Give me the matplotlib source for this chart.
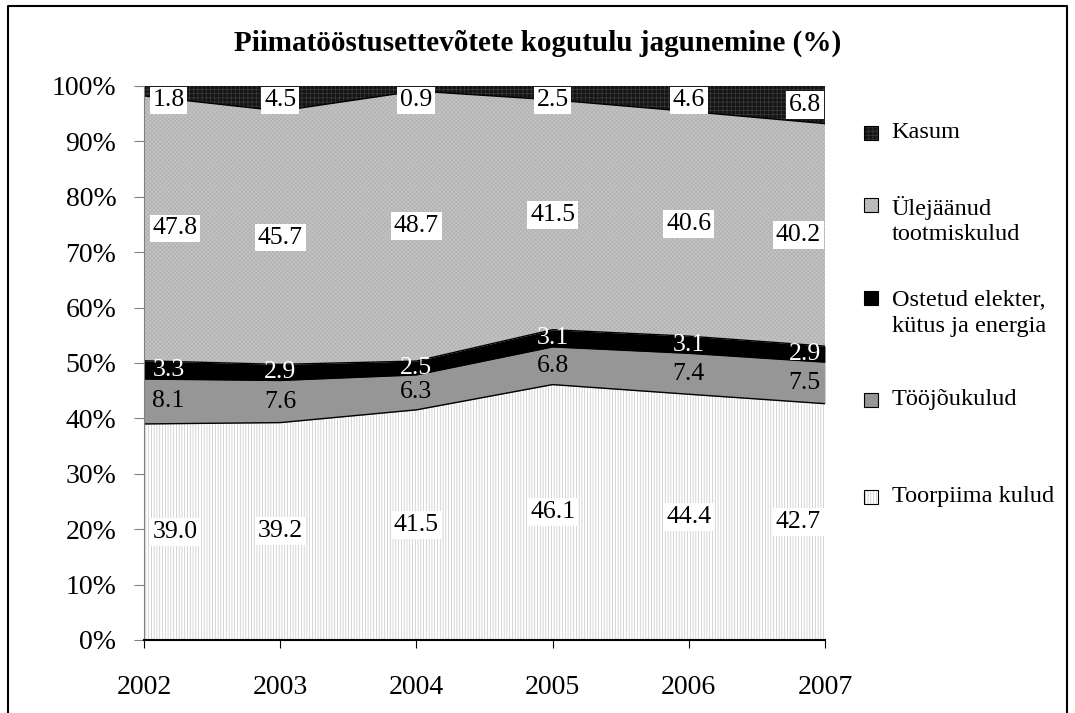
import matplotlib.pyplot as plt
import matplotlib.patches as mpatches
import numpy as np

plt.rcParams['font.family'] = ['Liberation Serif', 'DejaVu Serif']
plt.rcParams['hatch.linewidth'] = 0.5

years = [2002, 2003, 2004, 2005, 2006, 2007]
toorpiima = [39.0, 39.2, 41.5, 46.1, 44.4, 42.7]
toojou = [8.1, 7.6, 6.3, 6.8, 7.4, 7.5]
ostetud = [3.3, 2.9, 2.5, 3.1, 3.1, 2.9]
ulejaanud = [47.8, 45.7, 48.7, 41.5, 40.6, 40.2]
kasum = [1.8, 4.5, 0.9, 2.5, 4.6, 6.8]

names = ["Toorpiima kulud", "Tööjõukulud", "Ostetud elekter,\nkütus ja energia",
         "Ülejäänud\ntootmiskulud", "Kasum"]
series = [toorpiima, toojou, ostetud, ulejaanud, kasum]

# fill colour, hatch, hatch colour for each layer
styles = [
    ("white", "||||||", "#c4c4c4"),
    ("#969696", None, "#969696"),
    ("black", None, "black"),
    ("#c4c4c4", "xxxxxxxx", "#b0b0b0"),
    ("#141414", "++++", "#3c3c3c"),
]
# label text colour and whether it sits on a white box
label_style = [("black", True), ("black", False), ("white", False),
               ("black", True), ("black", True)]

data = np.array(series)
data = data / data.sum(axis=0) * 100
tops = np.cumsum(data, axis=0)
bottoms = tops - data
x = np.array(years)

fig = plt.figure(figsize=(10.75, 7.13), dpi=100)
ax = fig.add_axes([0.134, 0.1024, 0.6334, 0.777])

for i in range(len(series)):
    fc, hatch, hc = styles[i]
    ax.fill_between(x, bottoms[i], tops[i], facecolor=fc, hatch=hatch,
                    edgecolor=hc, linewidth=0)
for i in range(len(series) - 1):
    ax.plot(x, tops[i], color="black", lw=1.0)

ax.set_xlim(2002, 2007)
ax.set_ylim(0, 100)
ax.set_yticks(range(0, 101, 10))
ax.set_yticklabels([f"{v}%" for v in range(0, 101, 10)])
ax.set_xticks(years)
ax.set_xticklabels([str(y) for y in years])
ax.tick_params(axis="y", labelsize=20, length=7, direction="out", pad=13,
               color="#808080")
ax.tick_params(axis="x", labelsize=20, length=6, direction="out", pad=19)
for s in ["top", "right"]:
    ax.spines[s].set_visible(False)
ax.spines["left"].set_color("#808080")
ax.spines["bottom"].set_linewidth(1.5)

# value labels
for i, vals in enumerate(series):
    tc, boxed = label_style[i]
    for j, yr in enumerate(years):
        mid = bottoms[i][j] + data[i][j] / 2
        if i == len(series) - 1:
            mid = min(mid, 97.4)
        if j == 0:
            ha, dx = "left", 6
        elif j == len(years) - 1:
            ha, dx = "right", -3
        else:
            ha, dx = "center", 0
        bbox = dict(facecolor="white", edgecolor="none", pad=2) if boxed else None
        ax.annotate(f"{vals[j]:.1f}", (yr, mid), xytext=(dx, 0),
                    textcoords="offset points", ha=ha, va="center",
                    fontsize=18.5, color=tc, bbox=bbox)

# legend, top entry first
legend_y = [0.8135, 0.6907, 0.5603, 0.439, 0.303]
for k, i in enumerate(range(len(series) - 1, -1, -1)):
    fc, hatch, hc = styles[i]
    ly = legend_y[k]
    lines = names[i].count("\n")
    sq_y = ly + lines * 0.0217
    sq = (0.8035, sq_y - 0.0098)
    fig.add_artist(mpatches.Rectangle(sq, 0.013, 0.0196,
                                      transform=fig.transFigure, facecolor=fc,
                                      hatch=hatch, edgecolor=hc, linewidth=0))
    fig.add_artist(mpatches.Rectangle(sq, 0.013, 0.0196,
                                      transform=fig.transFigure, facecolor="none",
                                      edgecolor="black", linewidth=0.8))
    fig.text(0.8295, ly, names[i], fontsize=17.5, va="center", ha="left",
             linespacing=1.3)

fig.text(0.5, 1 - 43 / 713, "Piimatööstusettevõtete kogutulu jagunemine (%)",
         ha="center", va="center", fontsize=21, fontweight="bold")

# outer frame, open at the bottom edge
fx0, fx1, fy1 = 8 / 1075, 1067 / 1075, 1 - 6 / 713
fig.add_artist(plt.Line2D([fx0, fx0, fx1, fx1], [-0.05, fy1, fy1, -0.05],
                          transform=fig.transFigure, color="black", lw=1.5))

fig.savefig("out.png", dpi=100)
